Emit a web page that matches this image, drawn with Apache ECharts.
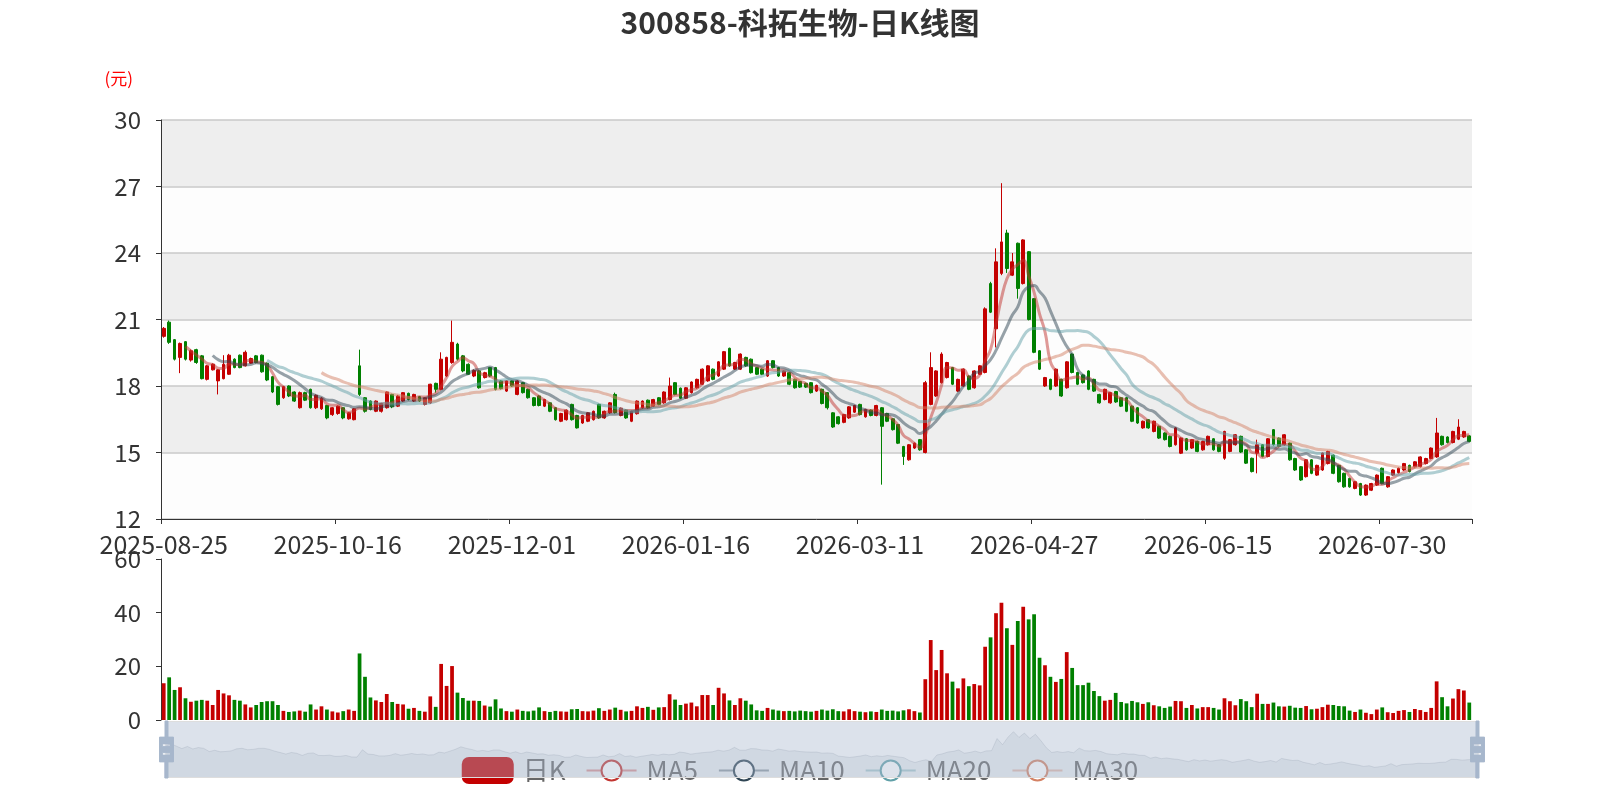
<!DOCTYPE html>
<html><head><meta charset="utf-8">
<script src="https://cdn.jsdelivr.net/npm/echarts@6/dist/echarts.min.js"></script>
<style>html,body{margin:0;padding:0;background:#fff}#main{width:1600px;height:800px}</style>
</head><body><div id="main"></div>
<script>
const titleText = '300858-科拓生物-日K线图';
const legendNames = ['日K', 'MA5', 'MA10', 'MA20', 'MA30'];
const maDays = [5, 10, 20, 30];
const maColors = ['#c23531', '#2f4554', '#61a0a8', '#d48265'];
const upColor = '#c40000';
const downColor = '#008000';

const dates = [
'2025-08-25','2025-08-26','2025-08-27','2025-08-28','2025-08-29',
'2025-09-01','2025-09-02','2025-09-03','2025-09-04','2025-09-05',
'2025-09-08','2025-09-09','2025-09-10','2025-09-11','2025-09-12',
'2025-09-15','2025-09-16','2025-09-17','2025-09-18','2025-09-19',
'2025-09-22','2025-09-23','2025-09-24','2025-09-25','2025-09-26',
'2025-09-29','2025-09-30','2025-10-09','2025-10-10',
'2025-10-13','2025-10-14','2025-10-15','2025-10-16','2025-10-17',
'2025-10-20','2025-10-21','2025-10-22','2025-10-23','2025-10-24',
'2025-10-27','2025-10-28','2025-10-29','2025-10-30','2025-10-31',
'2025-11-03','2025-11-04','2025-11-05','2025-11-06','2025-11-07',
'2025-11-10','2025-11-11','2025-11-12','2025-11-13','2025-11-14',
'2025-11-17','2025-11-18','2025-11-19','2025-11-20','2025-11-21',
'2025-11-24','2025-11-25','2025-11-26','2025-11-27','2025-11-28',
'2025-12-01','2025-12-02','2025-12-03','2025-12-04','2025-12-05',
'2025-12-08','2025-12-09','2025-12-10','2025-12-11','2025-12-12',
'2025-12-15','2025-12-16','2025-12-17','2025-12-18','2025-12-19',
'2025-12-22','2025-12-23','2025-12-24','2025-12-25','2025-12-26',
'2025-12-29','2025-12-30','2025-12-31',
'2026-01-05','2026-01-06','2026-01-07','2026-01-08','2026-01-09',
'2026-01-12','2026-01-13','2026-01-14','2026-01-15','2026-01-16',
'2026-01-19','2026-01-20','2026-01-21','2026-01-22','2026-01-23',
'2026-01-26','2026-01-27','2026-01-28','2026-01-29','2026-01-30',
'2026-02-02','2026-02-03','2026-02-04','2026-02-05','2026-02-06',
'2026-02-09','2026-02-10','2026-02-11','2026-02-12','2026-02-13',
'2026-02-24','2026-02-25','2026-02-26','2026-02-27',
'2026-03-02','2026-03-03','2026-03-04','2026-03-05','2026-03-06',
'2026-03-09','2026-03-10','2026-03-11','2026-03-12','2026-03-13',
'2026-03-16','2026-03-17','2026-03-18','2026-03-19','2026-03-20',
'2026-03-23','2026-03-24','2026-03-25','2026-03-26','2026-03-27',
'2026-03-30','2026-03-31','2026-04-01','2026-04-02','2026-04-03',
'2026-04-07','2026-04-08','2026-04-09','2026-04-10',
'2026-04-13','2026-04-14','2026-04-15','2026-04-16','2026-04-17',
'2026-04-20','2026-04-21','2026-04-22','2026-04-23','2026-04-24',
'2026-04-27','2026-04-28','2026-04-29','2026-04-30',
'2026-05-06','2026-05-07','2026-05-08',
'2026-05-11','2026-05-12','2026-05-13','2026-05-14','2026-05-15',
'2026-05-18','2026-05-19','2026-05-20','2026-05-21','2026-05-22',
'2026-05-25','2026-05-26','2026-05-27','2026-05-28','2026-05-29',
'2026-06-01','2026-06-02','2026-06-03','2026-06-04','2026-06-05',
'2026-06-08','2026-06-09','2026-06-10','2026-06-11','2026-06-12',
'2026-06-15','2026-06-16','2026-06-17','2026-06-18',
'2026-06-22','2026-06-23','2026-06-24','2026-06-25','2026-06-26',
'2026-06-29','2026-06-30','2026-07-01','2026-07-02','2026-07-03',
'2026-07-06','2026-07-07','2026-07-08','2026-07-09','2026-07-10',
'2026-07-13','2026-07-14','2026-07-15','2026-07-16','2026-07-17',
'2026-07-20','2026-07-21','2026-07-22','2026-07-23','2026-07-24',
'2026-07-27','2026-07-28','2026-07-29','2026-07-30','2026-07-31',
'2026-08-03','2026-08-04','2026-08-05','2026-08-06','2026-08-07',
'2026-08-10','2026-08-11','2026-08-12','2026-08-13','2026-08-14',
'2026-08-17','2026-08-18','2026-08-19','2026-08-20','2026-08-21'
];

// [open, close, low, high]
const kData = [
[20.24,20.60,20.18,20.66],[20.88,19.97,19.90,20.95],[20.09,19.21,19.15,20.12],[19.29,19.92,18.58,19.96],[20.00,19.21,19.15,20.03],
[19.17,19.59,19.10,19.65],[19.64,19.06,19.00,19.68],[19.36,18.33,18.30,19.40],[18.30,18.91,18.25,18.95],[18.73,18.98,18.70,19.02],
[18.23,18.73,17.62,18.76],[18.33,18.98,18.30,19.39],[18.53,19.39,18.50,19.45],[19.21,18.83,18.80,19.25],[19.39,18.83,18.80,19.42],
[18.91,19.52,18.88,19.60],[19.03,19.24,19.00,19.28],[19.36,19.06,19.02,19.40],[19.39,18.64,18.60,19.42],[19.03,18.27,18.22,19.06],
[18.42,17.73,17.68,18.45],[17.97,17.17,17.12,18.00],[17.47,17.97,17.42,18.00],[18.00,17.55,17.50,18.03],[17.73,17.32,17.28,17.76],
[17.02,17.70,16.98,17.75],[17.70,17.36,17.32,17.74],[17.85,17.02,16.98,17.88],[17.02,17.58,16.96,17.62],[16.97,17.45,16.92,17.50],
[17.12,16.56,16.50,17.15],[16.71,17.02,16.65,17.05],[16.76,17.09,16.70,17.12],[17.02,16.56,16.50,17.05],[16.52,16.79,16.48,16.82],
[16.48,16.97,16.45,17.00],[18.91,17.62,17.55,19.64],[17.47,16.86,16.80,17.50],[17.32,16.94,16.90,17.35],[16.86,17.32,16.82,17.35],
[16.86,17.21,16.80,17.24],[17.02,17.73,16.98,17.76],[17.62,17.06,17.00,17.65],[17.09,17.55,17.05,17.60],[17.32,17.70,17.28,17.73],
[17.67,17.39,17.35,17.70],[17.32,17.62,17.28,17.65],[17.52,17.32,17.28,17.55],[17.17,17.47,17.12,17.50],[17.24,18.08,17.20,18.10],
[18.12,17.85,17.70,18.15],[17.85,19.21,17.80,19.52],[18.45,19.29,18.40,19.32],[19.06,19.97,19.00,20.95],[19.89,19.21,19.15,19.95],
[19.36,18.68,18.62,19.40],[18.98,18.53,18.50,19.02],[18.45,18.70,18.40,18.75],[18.68,17.92,17.88,18.72],[18.38,18.60,18.34,18.64],
[18.83,18.45,18.40,18.86],[18.83,17.85,17.80,18.86],[18.23,17.88,17.84,18.26],[17.77,18.23,17.73,18.26],[18.23,18.00,17.96,18.26],
[17.62,18.23,17.58,18.26],[18.15,17.70,17.66,18.18],[17.85,17.47,17.43,17.88],[17.47,17.12,17.08,17.50],[17.55,17.12,17.08,17.58],
[17.09,17.39,17.05,17.42],[17.24,16.86,16.82,17.27],[17.02,16.48,16.44,17.05],[16.41,16.76,16.37,16.79],[16.48,16.91,16.44,16.94],
[17.17,16.48,16.44,17.20],[16.67,16.11,16.08,16.70],[16.33,16.67,16.29,16.70],[16.41,16.79,16.37,16.82],[16.48,16.86,16.44,16.89],
[17.17,16.56,16.52,17.20],[16.56,16.86,16.52,16.89],[16.79,17.24,16.75,17.27],[17.62,16.80,16.76,17.70],[16.67,17.00,16.63,17.03],
[16.91,16.56,16.52,16.94],[16.41,16.86,16.37,16.89],[16.75,17.32,16.71,17.35],[17.02,17.32,16.98,17.35],[17.36,17.02,16.98,17.39],
[17.09,17.39,17.05,17.42],[17.47,17.17,17.13,17.50],[17.24,17.73,17.20,17.76],[17.39,18.00,17.35,18.38],[18.15,17.62,17.58,18.18],
[17.90,17.45,17.41,17.93],[17.45,17.92,17.41,17.95],[17.70,18.18,17.66,18.21],[17.92,18.30,17.88,18.33],[18.08,18.76,18.04,18.79],
[18.23,18.91,18.19,18.94],[18.76,18.30,18.26,18.79],[18.45,19.09,18.41,19.12],[18.76,19.55,18.72,19.58],[19.70,18.91,18.87,19.73],
[18.76,19.06,18.72,19.09],[18.76,19.44,18.72,19.47],[19.29,18.91,18.87,19.32],[19.21,18.60,18.56,19.24],[18.83,18.53,18.49,18.86],
[18.76,18.53,18.49,18.79],[18.45,19.14,18.41,19.17],[19.14,18.83,18.79,19.17],[18.83,18.45,18.41,18.86],[18.45,18.68,18.41,18.71],
[18.60,18.08,18.04,18.63],[18.30,17.92,17.88,18.33],[18.20,17.95,17.91,18.23],[18.12,17.95,17.91,18.15],[18.15,17.70,17.66,18.18],
[17.77,18.03,17.73,18.06],[17.85,17.21,17.17,17.88],[17.70,17.02,16.94,17.73],[16.79,16.15,16.11,16.82],[16.61,16.30,16.26,16.64],
[16.36,16.71,16.32,16.74],[16.56,17.06,16.52,17.09],[16.82,17.12,16.78,17.15],[17.17,16.71,16.67,17.20],[16.61,16.94,16.57,16.97],
[16.91,16.67,16.63,16.94],[16.67,17.12,16.63,17.15],[17.02,16.18,13.55,17.05],[16.76,16.41,16.37,16.79],[16.52,16.03,15.99,16.55],
[16.26,15.42,15.38,16.29],[15.27,14.82,14.44,15.30],[14.67,15.35,14.63,15.38],[15.20,15.42,15.16,15.45],[15.58,15.12,15.08,15.61],
[15.00,18.15,14.96,18.23],[17.17,18.83,17.13,19.52],[17.55,18.68,17.51,18.71],[18.15,19.44,18.11,19.52],[18.38,19.06,18.34,19.09],
[18.83,18.08,18.04,18.86],[17.77,18.30,17.73,18.33],[18.00,18.76,17.96,18.79],[18.45,17.85,17.81,18.48],[17.92,18.68,17.88,18.71],
[18.53,18.91,18.49,18.94],[18.61,21.48,18.57,21.55],[22.62,21.33,21.29,22.70],[20.58,23.60,19.74,24.21],[23.08,24.50,23.00,27.15],
[24.90,23.30,23.10,25.05],[23.00,23.60,22.96,24.00],[24.44,22.40,21.94,24.47],[22.62,24.59,22.58,24.62],[24.06,21.00,20.96,24.09],
[21.94,19.52,19.48,21.97],[19.59,18.76,18.72,19.62],[18.00,18.38,17.96,18.41],[18.30,17.85,17.81,18.33],[18.00,18.76,17.96,18.79],
[18.30,17.55,17.51,18.33],[17.92,19.09,17.88,19.12],[19.44,18.61,18.57,19.47],[18.61,18.08,18.04,18.64],[18.50,18.15,18.11,18.53],
[18.68,17.85,17.81,18.71],[18.30,17.77,17.73,18.33],[17.62,17.24,17.20,17.65],[17.39,17.85,17.35,17.88],[17.24,17.70,17.20,17.73],
[17.75,17.28,17.24,17.78],[17.47,17.09,17.05,17.50],[17.47,16.86,16.82,17.50],[17.09,16.41,16.37,17.12],[17.02,16.33,16.29,17.05],
[16.11,16.41,16.07,16.44],[16.48,16.11,16.07,16.51],[15.95,16.41,15.91,16.44],[16.18,15.65,15.61,16.21],[15.88,15.58,15.54,15.91],
[15.73,15.27,15.23,15.76],[15.35,16.11,15.31,16.14],[14.97,15.65,14.93,15.68],[15.62,15.12,15.08,15.65],[15.20,15.58,15.16,15.61],
[15.50,15.05,15.01,15.53],[15.12,15.50,15.08,15.53],[15.35,15.73,15.31,15.76],[15.62,15.12,15.08,15.65],[15.35,15.05,15.01,15.38],
[14.74,15.95,14.67,15.98],[15.05,15.58,15.01,15.61],[15.35,15.80,15.31,15.83],[15.73,15.02,14.98,15.76],[15.12,14.52,14.48,15.15],
[14.74,14.14,14.10,14.77],[14.97,15.35,14.06,15.58],[15.35,14.82,14.78,15.38],[14.82,15.62,14.78,15.65],[16.03,15.35,15.31,16.06],
[15.65,15.27,15.23,15.68],[15.35,15.80,15.31,15.83],[15.42,14.67,14.63,15.45],[14.73,14.21,14.17,14.76],[14.36,13.76,13.72,14.39],
[13.91,14.67,13.87,14.70],[14.67,14.06,14.02,14.70],[13.98,14.42,13.94,14.45],[14.21,14.97,14.17,15.00],[14.50,15.05,14.46,15.08],
[14.88,14.06,14.02,14.91],[14.42,13.68,13.64,14.45],[14.06,13.45,13.41,14.09],[13.83,13.45,13.41,13.86],[13.38,13.68,13.34,13.71],
[13.60,13.08,13.04,13.63],[13.08,13.53,13.04,13.56],[13.30,13.60,13.26,13.63],[13.53,13.98,13.49,14.01],[14.29,13.60,13.56,14.32],
[13.45,13.91,13.41,13.94],[13.98,14.21,13.94,14.24],[14.09,14.29,14.05,14.32],[14.21,14.50,14.17,14.53],[14.42,14.14,14.10,14.45],
[14.36,14.58,14.32,14.61],[14.36,14.80,14.32,14.83],[14.50,14.73,14.46,14.76],[14.73,15.20,14.69,15.23],[14.80,15.88,14.76,16.56],
[15.73,15.35,15.31,15.76],[15.70,15.45,15.41,15.73],[15.45,15.95,15.41,15.98],[15.60,16.15,15.56,16.50],[15.70,15.95,15.66,15.98],
[15.75,15.50,15.46,15.78]
];

const volumes = [
13.7,15.9,11.2,12.2,8.1,6.8,7.2,7.5,7.2,5.6,
11.2,9.9,9.2,7.5,7.2,5.8,4.7,5.6,6.7,7.0,
7.0,5.6,3.4,3.0,3.2,3.5,3.1,5.8,3.9,5.1,
3.9,3.2,2.8,3.3,3.9,3.4,24.8,16.1,8.4,7.3,
6.7,9.7,6.7,6.0,5.8,4.2,4.5,3.4,3.1,8.8,
4.9,20.9,12.7,20.1,10.2,8.2,7.2,7.2,7.1,5.4,
5.0,7.7,4.3,3.3,3.1,3.9,3.4,3.2,3.5,4.7,
3.3,3.0,3.4,3.2,3.1,4.0,4.1,3.3,3.2,3.5,
4.4,3.4,3.9,4.6,3.8,3.2,3.4,5.1,4.5,4.9,
3.8,4.7,4.8,9.6,7.6,5.6,6.1,6.5,5.1,9.3,
9.3,5.6,12.0,9.9,7.3,5.6,8.1,7.2,5.8,3.6,
3.4,4.5,3.9,3.5,3.3,3.4,3.2,3.5,3.3,3.1,
3.4,3.9,3.5,4.0,3.3,3.2,4.0,3.3,3.1,2.9,
3.2,3.0,3.9,3.4,3.5,3.2,3.6,4.0,3.3,2.8,
15.2,29.8,18.6,26.1,17.4,14.3,11.8,15.5,12.6,13.4,
12.9,27.3,30.8,39.8,43.7,34.2,28.0,36.9,42.2,37.5,
39.4,23.2,20.4,16.1,14.2,15.3,25.3,19.4,13.0,13.0,
13.9,10.8,8.9,7.2,7.5,10.1,6.7,6.2,7.1,6.6,
6.0,6.6,5.5,5.1,4.5,5.0,7.1,7.0,4.5,5.6,
4.3,4.8,4.8,4.5,3.9,8.1,7.0,5.5,7.8,7.0,
4.8,9.8,6.0,6.0,6.5,5.1,5.0,5.3,4.6,4.5,
5.2,4.0,4.2,4.8,5.7,5.6,5.2,5.1,3.5,3.0,
3.9,2.7,2.2,3.9,4.7,2.9,2.6,3.4,3.7,3.0,
4.1,3.7,3.0,4.5,14.4,8.5,5.1,8.0,11.5,11.0,
6.5
];

const priceAxis = { min: 12, max: 30, interval: 3 };
const volumeAxis = { min: 0, max: 60, interval: 20 };

function calculateMA(dayCount) {
  const result = [];
  for (let i = 0; i < kData.length; i++) {
    if (i < dayCount - 1) { result.push('-'); continue; }
    let sum = 0;
    for (let j = 0; j < dayCount; j++) sum += kData[i - j][1];
    result.push(+(sum / dayCount).toFixed(3));
  }
  return result;
}

const chart = echarts.init(document.getElementById('main'));
const font = "'Noto Sans CJK SC','Noto Sans',sans-serif";
const maSeries = maDays.map((d, k) => ({
  name: legendNames[k + 1],
  type: 'line',
  data: calculateMA(d),
  smooth: true,
  showSymbol: false,
  color: maColors[k],
  lineStyle: { width: 3, opacity: 0.5, color: maColors[k] },
  xAxisIndex: 0, yAxisIndex: 0
}));

const handlePath = 'path://M8.2,13.6V3.9H6.3v9.7H3.1v14.9h3.3v9.7h1.8v-9.7h3.3V13.6H8.2z M9.7,24.4H4.8v-1.4h4.9V24.4z M9.7,19.1H4.8v-1.4h4.9V19.1z';

const option = {
  animation: false,
  backgroundColor: '#fff',
  textStyle: { fontFamily: font },
  title: {
    text: titleText, left: 'center', top: 3,
    textStyle: { fontSize: 30, fontWeight: 'bold', color: '#333', fontFamily: font }
  },
  legend: {
    data: legendNames, left: 'center', bottom: 11,
    itemWidth: 50, itemHeight: 25, itemGap: 20,
    textStyle: { fontSize: 26, color: '#666', padding: [0, 0, 0, 5] }
  },
  grid: [
    { left: 161, right: 128, top: 120, height: 399 },
    { left: 161, right: 128, top: 559, height: 161 }
  ],
  xAxis: [
    {
      type: 'category', data: dates, gridIndex: 0, boundaryGap: true,
      axisLine: { show: true, lineStyle: { color: '#333' } },
      axisTick: { show: true, interval: 31 },
      axisLabel: { interval: 31, fontSize: 25, color: '#333', margin: 13 },
      splitLine: { show: false }
    },
    {
      type: 'category', data: dates, gridIndex: 1, boundaryGap: true,
      axisLine: { show: false }, axisTick: { show: false },
      axisLabel: { show: false }, splitLine: { show: false }
    }
  ],
  yAxis: [
    {
      type: 'value', gridIndex: 0, min: priceAxis.min, max: priceAxis.max, interval: priceAxis.interval,
      name: '(元)', nameLocation: 'end', nameGap: 33,
      nameTextStyle: { color: '#ff0000', fontSize: 17, align: 'right', padding: [0, 28, 0, 0] },
      axisLine: { show: true, lineStyle: { color: '#333' } },
      axisTick: { show: true },
      axisLabel: { fontSize: 24, color: '#333', margin: 20 },
      splitLine: { show: true, lineStyle: { color: '#c8c8c8', width: 1.5 } },
      splitArea: { show: true, areaStyle: { color: ['rgba(250,250,250,0.3)', 'rgba(200,200,200,0.3)'] } }
    },
    {
      type: 'value', gridIndex: 1, min: volumeAxis.min, max: volumeAxis.max, interval: volumeAxis.interval,
      axisLine: { show: true, lineStyle: { color: '#333' } },
      axisTick: { show: true },
      axisLabel: { fontSize: 24, color: '#333', margin: 20 },
      splitLine: { show: false }
    }
  ],
  dataZoom: [
    { type: 'inside', xAxisIndex: [0, 1], start: 0, end: 100 },
    {
      type: 'slider', xAxisIndex: [0, 1], start: 0, end: 100,
      top: 721, height: 57, left: 163, right: 124,
      backgroundColor: 'rgba(47,69,84,0)',
      fillerColor: 'rgba(167,183,204,0.4)',
      borderColor: '#ddd',
      handleIcon: handlePath, handleSize: '100%',
      handleStyle: { color: '#a7b7cc', borderColor: '#a7b7cc' },
      moveHandleSize: 0, brushSelect: false, showDetail: false,
      dataBackground: {
        lineStyle: { color: '#2f4554', width: 0.5, opacity: 0.3 },
        areaStyle: { color: 'rgba(47,69,84,0.3)' }
      },
      selectedDataBackground: {
        lineStyle: { color: '#2f4554', width: 0.5, opacity: 0.3 },
        areaStyle: { color: 'rgba(47,69,84,0.3)' }
      }
    }
  ],
  series: [
    {
      name: '日K', type: 'candlestick', data: kData, barWidth: '60%',
      xAxisIndex: 0, yAxisIndex: 0,
      itemStyle: { color: upColor, color0: downColor, borderColor: upColor, borderColor0: downColor }
    },
    ...maSeries,
    {
      name: 'Volume', type: 'bar', xAxisIndex: 1, yAxisIndex: 1,
      data: volumes.map((v, i) => ({
        value: v,
        itemStyle: { color: kData[i][1] >= kData[i][0] ? upColor : downColor }
      }))
    }
  ]
};
chart.setOption(option);
</script>
</body></html>
